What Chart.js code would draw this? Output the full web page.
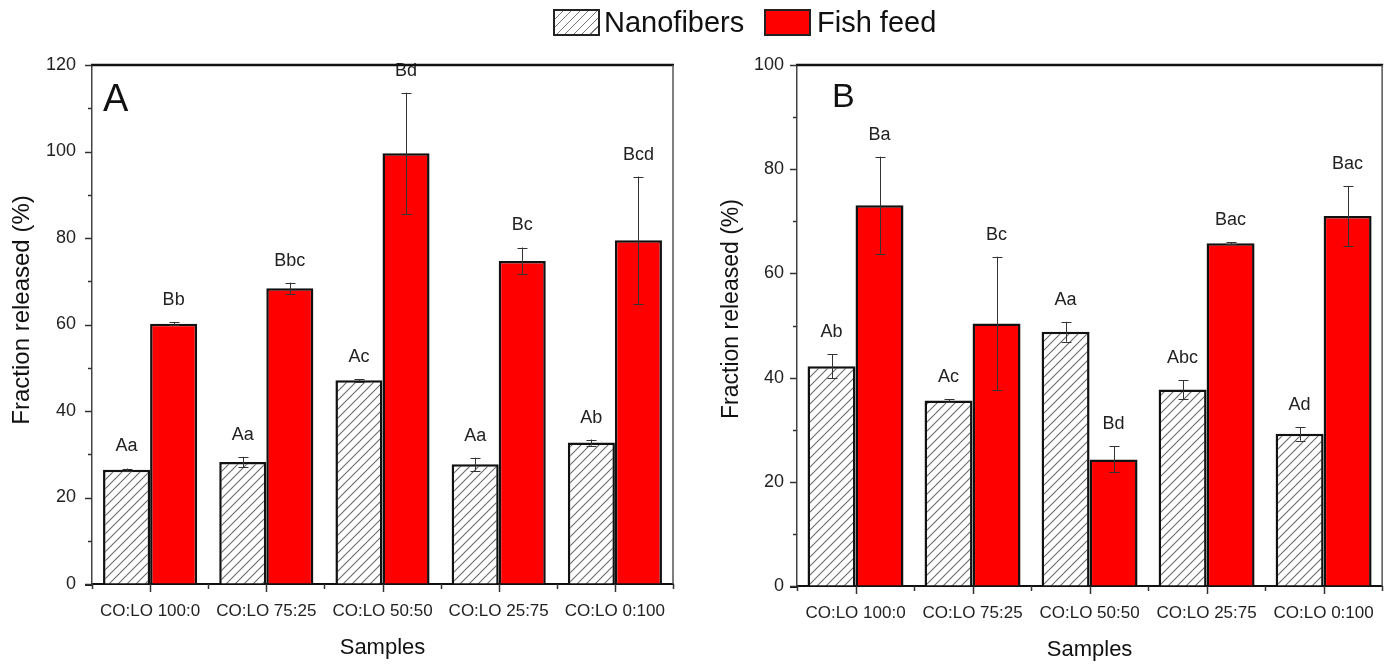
<!DOCTYPE html>
<html>
<head>
<meta charset="utf-8">
<script src="https://cdn.jsdelivr.net/npm/chart.js@4.4.1/dist/chart.umd.min.js"></script>
<style>
  html, body { margin:0; padding:0; background:#fff; }
  body { width:1384px; height:664px; position:relative; overflow:hidden; font-family:"Liberation Sans", Arial, sans-serif; }
  .panel { position:absolute; top:0; height:664px; }
  .sw { position:absolute; top:9px; width:43px; height:23px; border:2px solid #222; }
  .lt { position:absolute; top:4px; font-size:29px; line-height:36px; color:#111; }
</style>
</head>
<body>
<div class="panel" style="left:0; width:692px;"><canvas id="cA" width="692" height="664"></canvas></div>
<div class="panel" style="left:692px; width:699px;"><canvas id="cB" width="699" height="664"></canvas></div>
<div class="sw" style="left:553px; background:repeating-linear-gradient(135deg, #fff 0px, #fff 5px, #777 5px, #777 6px);"></div>
<div class="lt" style="left:604px">Nanofibers</div>
<div class="sw" style="left:764px; background:#ff0000;"></div>
<div class="lt" style="left:817px">Fish feed</div>
<script>
// ---------- data ----------
const categories = ['CO:LO 100:0', 'CO:LO 75:25', 'CO:LO 50:50', 'CO:LO 25:75', 'CO:LO 0:100'];
const seriesNames = ['Nanofibers', 'Fish feed'];

// Panel A
const nanoA      = [26.4, 28.2, 47.1, 27.7, 32.7];
const nanoErrA   = [0.3, 1.2, 0.3, 1.5, 0.7];
const feedA      = [60.2, 68.4, 99.6, 74.7, 79.5];
const feedErrA   = [0.3, 1.3, 14.0, 3.1, 14.7];
const nanoLabA   = ['Aa', 'Aa', 'Ac', 'Aa', 'Ab'];
const feedLabA   = ['Bb', 'Bbc', 'Bd', 'Bc', 'Bcd'];

// Panel B
const nanoB      = [42.2, 35.6, 48.8, 37.7, 29.2];
const nanoErrB   = [2.3, 0.2, 1.9, 1.8, 1.3];
const feedB      = [73.1, 50.4, 24.3, 65.8, 71.0];
const feedErrB   = [9.3, 12.8, 2.5, 0.2, 5.8];
const nanoLabB   = ['Ab', 'Ac', 'Aa', 'Abc', 'Ad'];
const feedLabB   = ['Ba', 'Bc', 'Bd', 'Bac', 'Bac'];

const yTitle = 'Fraction released (%)';
const xTitle = 'Samples';

// ---------- styling ----------
const FONT = '"Liberation Sans", Arial, sans-serif';
Chart.defaults.font.family = FONT;
Chart.defaults.color = '#222';

function makeHatch() {
  const s = 9;
  const c = document.createElement('canvas'); c.width = s; c.height = s;
  const g = c.getContext('2d');
  g.fillStyle = '#fff'; g.fillRect(0, 0, s, s);
  g.strokeStyle = '#6a6a6a'; g.lineWidth = 1.1;
  g.beginPath();
  g.moveTo(0, s); g.lineTo(s, 0);
  g.moveTo(-1, 1); g.lineTo(1, -1);
  g.moveTo(s - 1, s + 1); g.lineTo(s + 1, s - 1);
  g.stroke();
  return c;
}

const extras = {
  id: 'extras',
  afterDatasetsDraw(chart, args, o) {
    const ctx = chart.ctx, y = chart.scales.y;
    chart.data.datasets.forEach((ds, di) => {
      const meta = chart.getDatasetMeta(di);
      const errs = o.errors[di], labs = o.labels[di];
      meta.data.forEach((bar, i) => {
        const v = ds.data[i], e = errs[i];
        const bx = Math.round(bar.x) + 0.5;
        const yt = y.getPixelForValue(v + e), yb = y.getPixelForValue(v - e);
        ctx.save();
        ctx.strokeStyle = '#333'; ctx.lineWidth = 1;
        ctx.beginPath();
        ctx.moveTo(bx, yt); ctx.lineTo(bx, yb);
        ctx.moveTo(bx - 5, Math.round(yt) + 0.5); ctx.lineTo(bx + 5, Math.round(yt) + 0.5);
        ctx.moveTo(bx - 5, Math.round(yb) + 0.5); ctx.lineTo(bx + 5, Math.round(yb) + 0.5);
        ctx.stroke();
        ctx.fillStyle = '#222';
        ctx.font = '18px ' + FONT;
        ctx.textAlign = 'center'; ctx.textBaseline = 'middle';
        ctx.fillText(labs[i], bar.x, Math.min(yt, bar.y) - o.gap);
        ctx.restore();
      });
    });
  },
  afterDraw(chart, args, o) {
    const ctx = chart.ctx, a = chart.chartArea, x = chart.scales.x, y = chart.scales.y;
    ctx.save();
    // frame top / right
    ctx.strokeStyle = '#111'; ctx.lineWidth = 2.5;
    ctx.beginPath(); ctx.moveTo(a.left - 1, a.top); ctx.lineTo(a.right + 1, a.top); ctx.stroke();
    ctx.strokeStyle = '#555'; ctx.lineWidth = 1.5;
    ctx.beginPath(); ctx.moveTo(a.right, a.top); ctx.lineTo(a.right, a.bottom); ctx.stroke();
    // x axis line extends slightly to the left of the y axis
    ctx.strokeStyle = '#111'; ctx.lineWidth = 2;
    ctx.beginPath(); ctx.moveTo(a.left - 7, a.bottom + 1); ctx.lineTo(a.left, a.bottom + 1); ctx.stroke();
    // y ticks (major with labels every 20, minor every 10)
    ctx.strokeStyle = '#333'; ctx.lineWidth = 1.5;
    for (let v = y.min; v <= y.max; v += 10) {
      const py = Math.round(y.getPixelForValue(v)) + 0.5;
      const len = (v % 20 === 0) ? 7 : 4;
      ctx.beginPath(); ctx.moveTo(a.left - len, py); ctx.lineTo(a.left, py); ctx.stroke();
    }
    // x ticks: major at category centres, minor at boundaries
    const n = chart.data.labels.length;
    const step = x.getPixelForValue(1) - x.getPixelForValue(0);
    for (let i = 0; i < n; i++) {
      const px = Math.round(x.getPixelForValue(i)) + 0.5;
      ctx.beginPath(); ctx.moveTo(px, a.bottom); ctx.lineTo(px, a.bottom + 8); ctx.stroke();
    }
    for (let i = 0; i <= n; i++) {
      const bx = Math.round(x.getPixelForValue(0) - step / 2 + i * step) + 0.5;
      ctx.beginPath(); ctx.moveTo(bx, a.bottom); ctx.lineTo(bx, a.bottom + 5); ctx.stroke();
    }
    // y-axis title (rotated)
    ctx.fillStyle = '#111';
    ctx.font = o.yTitleSize + 'px ' + FONT;
    ctx.textAlign = 'center'; ctx.textBaseline = 'middle';
    ctx.translate(o.yTitleX, o.yTitleY);
    ctx.rotate(-Math.PI / 2);
    ctx.fillText(yTitle, 0, 0);
    ctx.setTransform(1, 0, 0, 1, 0, 0);
    // panel letter
    ctx.font = o.letterSize + 'px ' + FONT;
    ctx.textAlign = 'left'; ctx.textBaseline = 'alphabetic';
    ctx.fillText(o.letter, a.left + o.letterDx, a.top + o.letterDy);
    ctx.restore();
  }
};

function makeChart(id, nano, nanoErr, feed, feedErr, nanoLab, feedLab, cfg) {
  const canvas = document.getElementById(id);
  const ctx = canvas.getContext('2d');
  const hatch = ctx.createPattern(makeHatch(), 'repeat');
  return new Chart(ctx, {
    type: 'bar',
    data: {
      labels: categories,
      datasets: [
        { label: seriesNames[0], data: nano, backgroundColor: hatch, borderColor: '#111', borderWidth: 2.5,
          barPercentage: 1.0, categoryPercentage: cfg.catPct },
        { label: seriesNames[1], data: feed, backgroundColor: '#ff0000', borderColor: '#111', borderWidth: 2.5,
          barPercentage: 1.0, categoryPercentage: cfg.catPct }
      ]
    },
    options: {
      responsive: false,
      animation: false,
      devicePixelRatio: 1,
      layout: { padding: { left: 0, right: cfg.padRight, top: 65, bottom: 0 } },
      plugins: {
        legend: { display: false },
        tooltip: { enabled: false },
        extras: { errors: [nanoErr, feedErr], labels: [nanoLab, feedLab], gap: 22,
                  letter: cfg.letter, letterSize: cfg.letterSize, letterDx: cfg.letterDx, letterDy: cfg.letterDy,
                  yTitleX: cfg.yTitleX, yTitleY: cfg.yTitleY, yTitleSize: cfg.yTitleSize }
      },
      scales: {
        x: {
          offset: true,
          grid: { display: true, drawOnChartArea: false, drawTicks: false },
          border: { display: true, color: '#111', width: 2 },
          ticks: { font: { size: 17 }, color: '#222', padding: 17, maxRotation: 0, autoSkip: false },
          title: { display: true, text: xTitle, font: { size: 22 }, color: '#111', padding: { top: 0, bottom: cfg.xTitlePad } },
          afterFit(s) { s.height = cfg.xAxisH; }
        },
        y: {
          min: 0, max: cfg.yMax,
          grid: { display: true, drawOnChartArea: false, drawTicks: false },
          border: { display: true, color: '#444', width: 1.5 },
          ticks: { stepSize: 20, font: { size: 18 }, color: '#222', padding: cfg.yTickPad },
          title: { display: false },
          afterFit(s) { s.width = cfg.yAxisW; }
        }
      }
    },
    plugins: [extras]
  });
}

makeChart('cA', nanoA, nanoErrA, feedA, feedErrA, nanoLabA, feedLabA, {
  yMax: 120, padRight: 19, yAxisW: 92, xAxisH: 80, catPct: 0.81,
  yTickPad: 16, xTitlePad: 3,
  yTitleX: 22, yTitleY: 310, yTitleSize: 24,
  letter: 'A', letterSize: 38, letterDx: 11, letterDy: 46
});
makeChart('cB', nanoB, nanoErrB, feedB, feedErrB, nanoLabB, feedLabB, {
  yMax: 100, padRight: 3, yAxisW: 105, xAxisH: 78, catPct: 0.82,
  yTickPad: 13, xTitlePad: 1,
  yTitleX: 40, yTitleY: 309, yTitleSize: 23,
  letter: 'B', letterSize: 34, letterDx: 35, letterDy: 42
});
</script>
</body>
</html>
